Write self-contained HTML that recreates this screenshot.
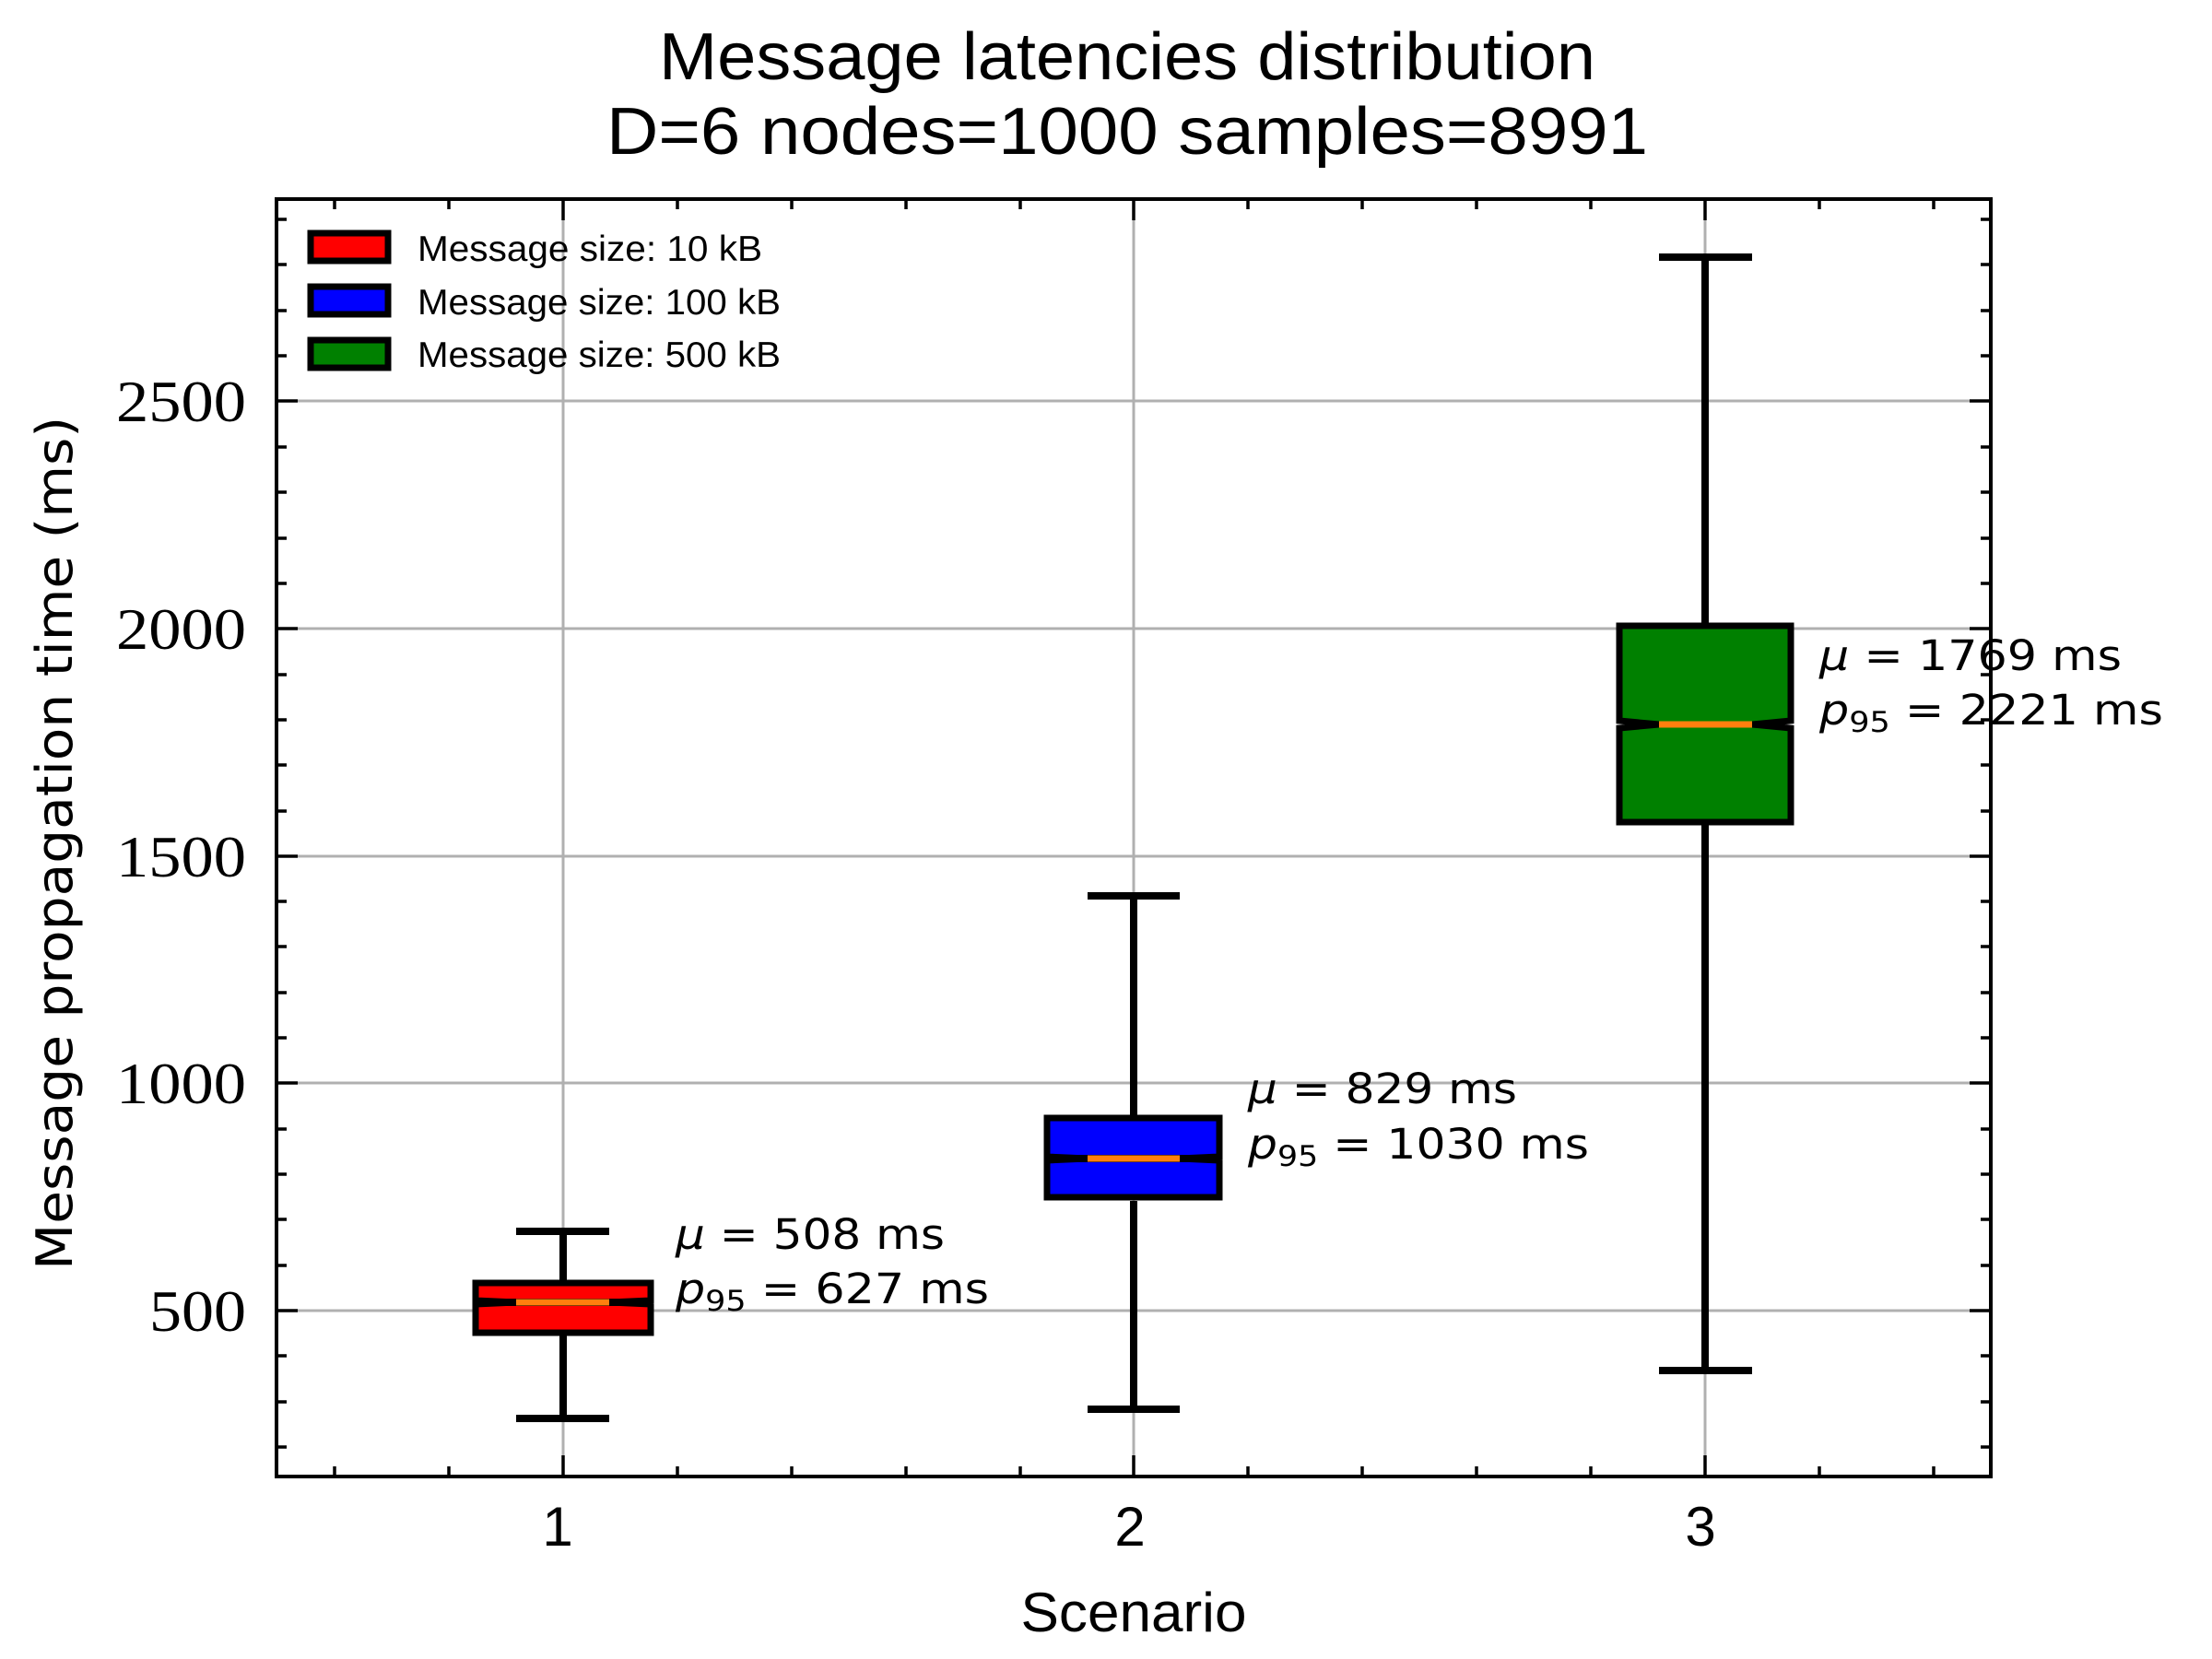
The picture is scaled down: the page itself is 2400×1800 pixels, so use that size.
<!DOCTYPE html>
<html><head><meta charset="utf-8"><style>
html,body{margin:0;padding:0;background:#fff;}
svg{display:block;}
</style></head><body>
<svg width="2400" height="1800" viewBox="0 0 2400 1800" xmlns="http://www.w3.org/2000/svg">
<rect width="2400" height="1800" fill="#fff"/>
<g stroke="#b0b0b0" stroke-width="3">
<line x1="611" y1="216" x2="611" y2="1602"/>
<line x1="1230" y1="216" x2="1230" y2="1602"/>
<line x1="1850" y1="216" x2="1850" y2="1602"/>
<line x1="300" y1="435" x2="2160" y2="435"/>
<line x1="300" y1="682" x2="2160" y2="682"/>
<line x1="300" y1="929" x2="2160" y2="929"/>
<line x1="300" y1="1175" x2="2160" y2="1175"/>
<line x1="300" y1="1422" x2="2160" y2="1422"/>
</g>
<g stroke="#000" stroke-width="3.5" fill="none">
<path d="M611 1602v-23M1230 1602v-23M1850 1602v-23M611 216v23M1230 216v23M1850 216v23
M300 435h23M300 682h23M300 929h23M300 1175h23M300 1422h23
M2160 435h-23M2160 682h-23M2160 929h-23M2160 1175h-23M2160 1422h-23"/>
<path d="M363 1602v-11M487 1602v-11M735 1602v-11M859 1602v-11M983 1602v-11M1107 1602v-11M1354 1602v-11M1478 1602v-11M1602 1602v-11M1726 1602v-11M1974 1602v-11M2098 1602v-11
M363 216v11M487 216v11M735 216v11M859 216v11M983 216v11M1107 216v11M1354 216v11M1478 216v11M1602 216v11M1726 216v11M1974 216v11M2098 216v11"/>
<path d="M300 1570h11M300 1521h11M300 1471h11M300 1373h11M300 1323h11M300 1274h11M300 1225h11M300 1126h11M300 1077h11M300 1027h11M300 978h11M300 880h11M300 830h11M300 781h11M300 732h11M300 633h11M300 584h11M300 534h11M300 485h11M300 386h11M300 337h11M300 287h11M300 238h11
M2160 1570h-11M2160 1521h-11M2160 1471h-11M2160 1373h-11M2160 1323h-11M2160 1274h-11M2160 1225h-11M2160 1126h-11M2160 1077h-11M2160 1027h-11M2160 978h-11M2160 880h-11M2160 830h-11M2160 781h-11M2160 732h-11M2160 633h-11M2160 584h-11M2160 534h-11M2160 485h-11M2160 386h-11M2160 337h-11M2160 287h-11M2160 238h-11"/>
</g>
<g stroke="#000" stroke-width="8">
<line x1="611" y1="1336" x2="611" y2="1392"/>
<line x1="611" y1="1446" x2="611" y2="1539"/>
<line x1="560" y1="1336" x2="661" y2="1336"/>
<line x1="560" y1="1539" x2="661" y2="1539"/>
<polygon points="516,1392 706,1392 706,1411 661,1413 706,1415 706,1446 516,1446 516,1415 560,1413 516,1411" fill="#ff0000" stroke-width="7"/>
<line x1="516" y1="1413" x2="706" y2="1413" stroke-width="8"/>
<line x1="560" y1="1413" x2="661" y2="1413" stroke="#ff7f0e" stroke-width="7"/>
<line x1="1230" y1="972" x2="1230" y2="1213"/>
<line x1="1230" y1="1303" x2="1230" y2="1529"/>
<line x1="1180" y1="972" x2="1280" y2="972"/>
<line x1="1180" y1="1529" x2="1280" y2="1529"/>
<polygon points="1136,1213 1323,1213 1323,1255 1280,1257 1323,1259 1323,1299 1136,1299 1136,1259 1180,1257 1136,1255" fill="#0000ff" stroke-width="7"/>
<line x1="1136" y1="1257" x2="1323" y2="1257" stroke-width="8"/>
<line x1="1180" y1="1257" x2="1280" y2="1257" stroke="#ff7f0e" stroke-width="7"/>
<line x1="1850" y1="279" x2="1850" y2="678"/>
<line x1="1850" y1="892" x2="1850" y2="1487"/>
<line x1="1800" y1="279" x2="1901" y2="279"/>
<line x1="1800" y1="1487" x2="1901" y2="1487"/>
<polygon points="1757,679 1943,679 1943,782 1901,786 1943,790 1943,892 1757,892 1757,790 1800,786 1757,782" fill="#008000" stroke-width="7"/>
<line x1="1800" y1="786" x2="1901" y2="786" stroke="#ff7f0e" stroke-width="7"/>
</g>
<rect x="300" y="216" width="1860" height="1386" fill="none" stroke="#000" stroke-width="4"/>
<g stroke="#000" stroke-width="7">
<rect x="337" y="253" width="84" height="30" fill="#ff0000"/>
<rect x="337" y="311" width="84" height="30" fill="#0000ff"/>
<rect x="337" y="369" width="84" height="30" fill="#008000"/>
</g>
<g font-family="Liberation Sans, sans-serif" font-size="39" fill="#000">
<text x="453" y="283" textLength="374" lengthAdjust="spacingAndGlyphs">Message size: 10 kB</text>
<text x="453" y="341" textLength="394" lengthAdjust="spacingAndGlyphs">Message size: 100 kB</text>
<text x="453" y="398" textLength="394" lengthAdjust="spacingAndGlyphs">Message size: 500 kB</text>
</g>
<g font-family="DejaVu Sans, sans-serif" font-size="45" fill="#000">
<text x="733" y="1355" textLength="292" lengthAdjust="spacingAndGlyphs"><tspan font-style="italic">μ</tspan> =  508 ms</text>
<text x="733" y="1414" textLength="340" lengthAdjust="spacingAndGlyphs"><tspan font-style="italic">p</tspan><tspan font-size="31" dy="8">95</tspan><tspan dy="-8"> =  627 ms</tspan></text>
<text x="1354" y="1197" textLength="292" lengthAdjust="spacingAndGlyphs"><tspan font-style="italic">μ</tspan> =  829 ms</text>
<text x="1354" y="1257" textLength="370" lengthAdjust="spacingAndGlyphs"><tspan font-style="italic">p</tspan><tspan font-size="31" dy="8">95</tspan><tspan dy="-8"> =  1030 ms</tspan></text>
<text x="1974" y="727" textLength="328" lengthAdjust="spacingAndGlyphs"><tspan font-style="italic">μ</tspan> =  1769 ms</text>
<text x="1974" y="786" textLength="373" lengthAdjust="spacingAndGlyphs"><tspan font-style="italic">p</tspan><tspan font-size="31" dy="8">95</tspan><tspan dy="-8"> =  2221 ms</tspan></text>
</g>
<g font-family="Liberation Serif, serif" font-size="63" fill="#000" text-anchor="end">
<text x="267" y="457" textLength="141" lengthAdjust="spacingAndGlyphs">2500</text>
<text x="267" y="704" textLength="141" lengthAdjust="spacingAndGlyphs">2000</text>
<text x="267" y="951" textLength="141" lengthAdjust="spacingAndGlyphs">1500</text>
<text x="267" y="1197" textLength="141" lengthAdjust="spacingAndGlyphs">1000</text>
<text x="267" y="1444" textLength="105" lengthAdjust="spacingAndGlyphs">500</text>
</g>
<g font-family="Liberation Sans, sans-serif" font-size="60" fill="#000" text-anchor="middle">
<text x="605" y="1677">1</text>
<text x="1226" y="1677">2</text>
<text x="1845" y="1677">3</text>
</g>
<text x="1230" y="1770" font-family="Liberation Sans, sans-serif" font-size="60" text-anchor="middle" textLength="245" lengthAdjust="spacingAndGlyphs">Scenario</text>
<text transform="translate(78,915) rotate(-90)" font-family="DejaVu Sans, sans-serif" font-size="54" text-anchor="middle" textLength="926" lengthAdjust="spacingAndGlyphs">Message propagation time (ms)</text>
<g font-family="Liberation Sans, sans-serif" font-size="72" fill="#000" text-anchor="middle">
<text x="1223" y="86" textLength="1016" lengthAdjust="spacingAndGlyphs">Message latencies distribution</text>
<text x="1223" y="167" textLength="1130" lengthAdjust="spacingAndGlyphs">D=6 nodes=1000 samples=8991</text>
</g>
</svg>
</body></html>
